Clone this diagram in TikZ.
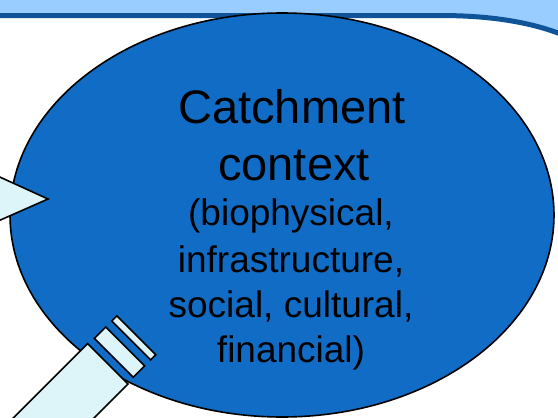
\documentclass[tikz,border=0pt]{standalone}
\usepackage{fontspec}
\setmainfont{Liberation Sans}
\definecolor{bandlight}{HTML}{99CCFF}
\definecolor{banddark}{HTML}{0F5499}
\definecolor{ellfill}{HTML}{106CC4}
\definecolor{paleCyan}{HTML}{DDF4F8}
\tikzset{
  outline/.style={draw=black, line width=1.6pt, line join=miter},
  palepart/.style={outline, fill=paleCyan},
  bigtext/.style={anchor=base, inner sep=0pt, font=\fontsize{47}{56}\selectfont},
  smalltext/.style={anchor=base, inner sep=0pt, font=\fontsize{37}{45}\selectfont}
}
\begin{document}
\begin{tikzpicture}[x=1pt,y=-1pt]
\useasboundingbox (0,0) rectangle (558,418);
\clip (0,0) rectangle (558,418);
\fill[white] (0,0) rectangle (558,418);
% top banner
\fill[bandlight] (0,0) -- (558,0) -- (558,33) .. controls (530,22) and (490,15.5) .. (440,15.5) -- (0,15.5) -- cycle;
\draw[banddark, line width=5pt] (-5,15.5) -- (440,15.5) .. controls (490,15.5) and (530,22) .. (562,34.5);
% ellipse
\draw[outline, fill=ellfill] (282,215) ellipse [x radius=272, y radius=202];
% callout pointer on the left
\draw[palepart] (-20,168) -- (48,199) -- (-20,229);
% pipe with two slabs at lower left
\draw[palepart] (3.5,427.8) -- (87.7,343.6) -- (128,384) -- (43.8,468);
\draw[palepart] (94.4,338.4) -- (105.7,327) -- (144.6,365.9) -- (133.3,377.2) -- cycle;
\draw[palepart] (111.7,321) -- (116.9,315.9) -- (155.8,354.8) -- (150.6,359.9) -- cycle;
% text
\node[bigtext] (l1) at (292,123) {Catchment};
\node[bigtext] (l2) at (294,180) {context};
\node[smalltext] (l3) at (291,225) {(biophysical,};
\node[smalltext] (l4) at (291,272) {infrastructure,};
\node[smalltext] (l5) at (291,317) {social, cultural,};
\node[smalltext] (l6) at (291,362) {financial)};
\end{tikzpicture}
\end{document}
